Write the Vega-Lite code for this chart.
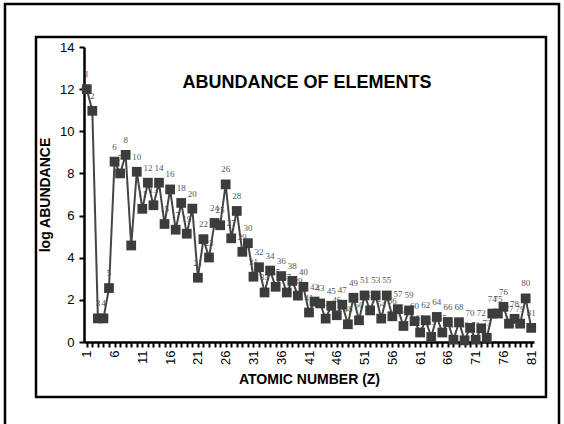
{
  "$schema": "https://vega.github.io/schema/vega-lite/v6.json",
  "width": 510,
  "height": 360,
  "autosize": {"type": "none"},
  "padding": {"left": 36, "top": 37, "right": 18, "bottom": 27},
  "background": "white",
  "config": {
    "view": {"stroke": "black", "strokeWidth": 2.5},
    "font": "Liberation Sans"
  },
  "title": {
    "text": "ABUNDANCE OF ELEMENTS",
    "fontSize": 18,
    "fontWeight": "bold",
    "font": "Liberation Sans",
    "color": "black",
    "anchor": "middle",
    "baseline": "alphabetic",
    "dx": 16,
    "offset": -103
  },
  "data": {"values": [
    {"z":1,"v":12.0},{"z":2,"v":10.97},{"z":3,"v":1.12},{"z":4,"v":1.12},{"z":5,"v":2.56},
    {"z":6,"v":8.56},{"z":7,"v":8.0},{"z":8,"v":8.88},{"z":9,"v":4.58},{"z":10,"v":8.08},
    {"z":11,"v":6.32},{"z":12,"v":7.56},{"z":13,"v":6.49},{"z":14,"v":7.56},{"z":15,"v":5.6},
    {"z":16,"v":7.24},{"z":17,"v":5.33},{"z":18,"v":6.6},{"z":19,"v":5.14},{"z":20,"v":6.33},
    {"z":21,"v":3.05},{"z":22,"v":4.88},{"z":23,"v":4.01},{"z":24,"v":5.65},{"z":25,"v":5.54},
    {"z":26,"v":7.48},{"z":27,"v":4.92},{"z":28,"v":6.22},{"z":29,"v":4.28},{"z":30,"v":4.69},
    {"z":31,"v":3.1},{"z":32,"v":3.55},{"z":33,"v":2.35},{"z":34,"v":3.39},{"z":35,"v":2.62},
    {"z":36,"v":3.13},{"z":37,"v":2.35},{"z":38,"v":2.9},{"z":39,"v":2.2},{"z":40,"v":2.62},
    {"z":41,"v":1.4},{"z":42,"v":1.92},{"z":43,"v":1.83},{"z":44,"v":1.11},{"z":45,"v":1.72},
    {"z":46,"v":1.27},{"z":47,"v":1.77},{"z":48,"v":0.84},{"z":49,"v":2.1},{"z":50,"v":1.03},
    {"z":51,"v":2.21},{"z":52,"v":1.5},{"z":53,"v":2.21},{"z":54,"v":1.11},{"z":55,"v":2.21},
    {"z":56,"v":1.22},{"z":57,"v":1.56},{"z":58,"v":0.76},{"z":59,"v":1.5},{"z":60,"v":0.99},
    {"z":61,"v":0.45},{"z":62,"v":1.03},{"z":63,"v":0.24},{"z":64,"v":1.19},{"z":65,"v":0.45},
    {"z":66,"v":0.95},{"z":67,"v":0.11},{"z":68,"v":0.94},{"z":69,"v":0.08},{"z":70,"v":0.67},
    {"z":71,"v":0.11},{"z":72,"v":0.65},{"z":73,"v":0.2},{"z":74,"v":1.35},{"z":75,"v":1.35},
    {"z":76,"v":1.67},{"z":77,"v":0.87},{"z":78,"v":1.1},{"z":79,"v":0.87},{"z":80,"v":2.07},
    {"z":81,"v":0.67}
  ]},
  "layer": [
    {
      "data": {"values": [{"f": 1}]},
      "mark": {"type": "rect", "fill": "transparent", "stroke": "black", "strokeWidth": 2.5, "clip": false},
      "encoding": {
        "x": {
          "datum": -13.72, "type": "quantitative",
          "scale": {"domain": [0.5, 81.5], "range": [48, 498], "nice": false, "zero": false},
          "axis": {
            "orient": "bottom", "offset": -55,
            "values": [1,2,3,4,5,6,7,8,9,10,11,12,13,14,15,16,17,18,19,20,21,22,23,24,25,26,27,28,29,30,31,32,33,34,35,36,37,38,39,40,41,42,43,44,45,46,47,48,49,50,51,52,53,54,55,56,57,58,59,60,61,62,63,64,65,66,67,68,69,70,71,72,73,74,75,76,77,78,79,80,81],
            "labelExpr": "(datum.value - 1) % 5 == 0 ? datum.label : ''",
            "labelAngle": -90, "labelOverlap": false, "labelFlush": false,
            "labelFontSize": 13, "labelColor": "black", "labelPadding": 3,
            "tickSize": 5, "tickWidth": 2, "tickColor": "black",
            "domainColor": "black", "domainWidth": 2.5, "grid": false,
            "title": "ATOMIC NUMBER (Z)", "titleFontSize": 14, "titleFontWeight": "bold",
            "titleColor": "black", "titlePadding": 8
          }
        },
        "x2": {"datum": 86.0},
        "y": {
          "datum": 16.04, "type": "quantitative",
          "scale": {"domain": [0, 14], "range": [305, 10], "nice": false, "zero": false},
          "axis": {
            "orient": "left", "offset": -48,
            "values": [0,2,4,6,8,10,12,14],
            "labelFontSize": 13, "labelColor": "black", "labelPadding": 5,
            "tickSize": 5, "tickWidth": 2, "tickColor": "black",
            "domainColor": "black", "domainWidth": 2.5, "grid": false,
            "title": "log ABUNDANCE", "titleFontSize": 14, "titleFontWeight": "bold",
            "titleColor": "black", "titlePadding": 7
          }
        },
        "y2": {"datum": -4.3}
      }
    },
    {
      "encoding": {
        "x": {
          "field": "z", "type": "quantitative",
          "scale": {"domain": [0.5, 81.5], "range": [48, 498], "nice": false, "zero": false},
          "axis": {
            "orient": "bottom", "offset": -55,
            "values": [1,2,3,4,5,6,7,8,9,10,11,12,13,14,15,16,17,18,19,20,21,22,23,24,25,26,27,28,29,30,31,32,33,34,35,36,37,38,39,40,41,42,43,44,45,46,47,48,49,50,51,52,53,54,55,56,57,58,59,60,61,62,63,64,65,66,67,68,69,70,71,72,73,74,75,76,77,78,79,80,81],
            "labelExpr": "(datum.value - 1) % 5 == 0 ? datum.label : ''",
            "labelAngle": -90, "labelOverlap": false, "labelFlush": false,
            "labelFontSize": 13, "labelColor": "black", "labelPadding": 3,
            "tickSize": 5, "tickWidth": 2, "tickColor": "black",
            "domainColor": "black", "domainWidth": 2.5, "grid": false,
            "title": "ATOMIC NUMBER (Z)", "titleFontSize": 14, "titleFontWeight": "bold",
            "titleColor": "black", "titlePadding": 8
          }
        },
        "y": {
          "field": "v", "type": "quantitative",
          "scale": {"domain": [0, 14], "range": [305, 10], "nice": false, "zero": false},
          "axis": {
            "orient": "left", "offset": -48,
            "values": [0,2,4,6,8,10,12,14],
            "labelFontSize": 13, "labelColor": "black", "labelPadding": 5,
            "tickSize": 5, "tickWidth": 2, "tickColor": "black",
            "domainColor": "black", "domainWidth": 2.5, "grid": false,
            "title": "log ABUNDANCE", "titleFontSize": 14, "titleFontWeight": "bold",
            "titleColor": "black", "titlePadding": 7
          }
        }
      },
      "layer": [
        {
          "mark": {"type": "text", "dy": -15, "font": "Liberation Serif", "fontSize": 9, "color": "#555555"},
          "encoding": {"text": {"field": "z", "type": "nominal"}}
        },
        {
          "mark": {"type": "line", "color": "#454545", "strokeWidth": 2}
        },
        {
          "mark": {"type": "point", "shape": "square", "filled": true, "size": 95, "color": "#3c3c3c", "opacity": 1}
        }
      ]
    }
  ]
}
